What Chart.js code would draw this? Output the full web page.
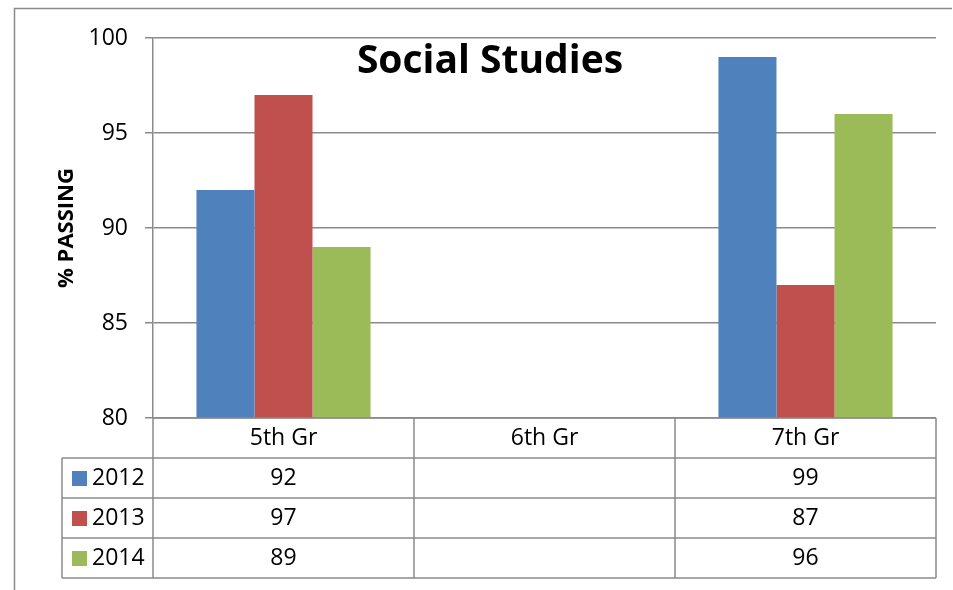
<!DOCTYPE html>
<html><head><meta charset="utf-8">
<script src="https://cdn.jsdelivr.net/npm/chart.js@4.4.1/dist/chart.umd.min.js"></script>
<style>html,body{margin:0;padding:0;background:#fff}#wrap{width:953px;height:590px;position:relative}</style>
</head><body><div id="wrap"><canvas id="c"></canvas></div>
<script>
const categories = ['5th Gr', '6th Gr', '7th Gr'];
const seriesNames = ['2012', '2013', '2014'];
const values2012 = [92, null, 99];
const values2013 = [97, null, 87];
const values2014 = [89, null, 96];
const seriesColors = ['#4F81BD', '#C0504D', '#9BBB59'];
const yMin = 80, yMax = 100, yStep = 5;
const chartTitle = 'Social Studies';
const yTitle = '% PASSING';

const FONT = '"Open Sans", Lato, sans-serif';
const LINE = '#8a8a8a';

const decorPlugin = {
  id: 'decor',
  beforeDraw(chart) {
    const ctx = chart.ctx;
    ctx.save();
    ctx.fillStyle = '#fff';
    ctx.fillRect(0, 0, chart.width, chart.height);
    ctx.strokeStyle = LINE;
    ctx.lineWidth = 1.5;
    ctx.beginPath();
    ctx.moveTo(14.5, chart.height + 5);
    ctx.lineTo(14.5, 8.5);
    ctx.lineTo(952, 8.5);
    ctx.stroke();
    ctx.restore();
  },
  afterDraw(chart) {
    const ctx = chart.ctx, xs = chart.scales.x, area = chart.chartArea;
    const rowH = 40, top = area.bottom, left = area.left, right = area.right;
    const legendLeft = 62;
    const nRows = chart.data.datasets.length;
    const bottom = top + rowH * (nRows + 1);
    ctx.save();
    ctx.strokeStyle = LINE;
    ctx.lineWidth = 1.5;
    ctx.beginPath();
    ctx.moveTo(left, top); ctx.lineTo(right, top);
    for (let r = 1; r <= nRows + 1; r++) {
      const y = top + r * rowH;
      ctx.moveTo(legendLeft, y); ctx.lineTo(right, y);
    }
    const n = categories.length;
    const bounds = [left];
    for (let i = 0; i < n - 1; i++) bounds.push((xs.getPixelForValue(i) + xs.getPixelForValue(i + 1)) / 2);
    bounds.push(right);
    bounds.forEach(x => { ctx.moveTo(x, top); ctx.lineTo(x, bottom); });
    ctx.moveTo(legendLeft, top + rowH); ctx.lineTo(legendLeft, bottom);
    ctx.stroke();

    ctx.fillStyle = '#000';
    ctx.font = '23px ' + FONT;
    ctx.textAlign = 'center';
    ctx.textBaseline = 'middle';
    categories.forEach((c, i) => {
      ctx.fillText(c, xs.getPixelForValue(i), top + rowH / 2);
    });
    chart.data.datasets.forEach((ds, r) => {
      const y = top + (r + 1) * rowH + rowH / 2;
      ds.data.forEach((v, i) => {
        if (v !== null && v !== undefined) ctx.fillText(String(v), xs.getPixelForValue(i), y);
      });
      ctx.fillStyle = ds.backgroundColor;
      ctx.fillRect(72, y - 7, 15, 15);
      ctx.fillStyle = '#000';
      ctx.textAlign = 'left';
      ctx.fillText(ds.label, 92, y);
      ctx.textAlign = 'center';
    });

    ctx.font = 'bold 39px ' + FONT;
    ctx.fillText(chartTitle, 490, 62);
    ctx.restore();
  }
};

new Chart(document.getElementById('c'), {
  type: 'bar',
  data: {
    labels: categories,
    datasets: [
      { label: seriesNames[0], data: values2012, backgroundColor: seriesColors[0] },
      { label: seriesNames[1], data: values2013, backgroundColor: seriesColors[1] },
      { label: seriesNames[2], data: values2014, backgroundColor: seriesColors[2] }
    ]
  },
  options: {
    responsive: true,
    maintainAspectRatio: false,
    animation: false,
    devicePixelRatio: 1,
    layout: { padding: { left: 50, right: 17, top: 38, bottom: 172 } },
    datasets: { bar: { categoryPercentage: 0.667, barPercentage: 1.0, borderWidth: 0 } },
    plugins: { legend: { display: false }, title: { display: false }, tooltip: { enabled: false } },
    scales: {
      x: { display: false },
      y: {
        min: yMin, max: yMax,
        afterFit(scale) { scale.width = 103; },
        ticks: { stepSize: yStep, color: '#000', padding: 17, font: { family: FONT, size: 23 } },
        grid: { color: LINE, lineWidth: 1.5, tickLength: 8, drawTicks: true },
        border: { display: true, color: LINE, width: 1.5 },
        title: { display: true, text: yTitle, color: '#000', font: { family: FONT, size: 22, weight: 'bold' }, padding: { top: 4, bottom: 0 } }
      }
    }
  },
  plugins: [decorPlugin]
});
</script>
</body></html>
